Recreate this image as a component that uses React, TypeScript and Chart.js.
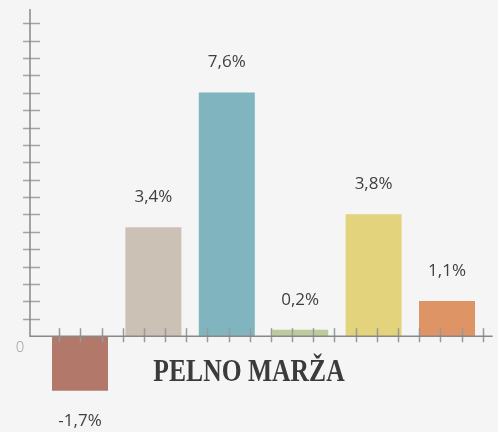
import React, { useEffect, useRef } from "react";
import { Chart, registerables } from "chart.js";

Chart.register(...registerables);

const categories = ["1", "2", "3", "4", "5", "6"];
const values = [-1.7, 3.4, 7.6, 0.2, 3.8, 1.1];
const colors = ["#b2786a", "#cbc1b5", "#80b5bf", "#bdcb9c", "#e3d37c", "#de9465"];
const title = "PELNO MARŽA";
const zeroLabel = "0";
const yTickStep = 0.542;
const yTickCount = 18;
const xTickStart = -0.282;
const xTickStep = 0.2884;
const xTickCount = 21;

const decor = {
  id: "decor",
  afterDatasetsDraw(chart: any) {
    const ctx = chart.ctx;
    const y = chart.scales.y;
    const x = chart.scales.x;
    const ca = chart.chartArea;
    const zeroY = y.getPixelForValue(0);
    const axisX = ca.left - 13.3;
    const axisRight = x.getPixelForValue(xTickStart + (xTickCount - 1) * xTickStep) + 10;
    ctx.save();
    // y tick marks
    ctx.strokeStyle = "#a3a3a3";
    ctx.lineWidth = 1.5;
    for (let k = 1; k <= yTickCount; k++) {
      const py = Math.round(y.getPixelForValue(k * yTickStep)) + 0.5;
      ctx.beginPath();
      ctx.moveTo(axisX - 7, py);
      ctx.lineTo(axisX + 10, py);
      ctx.stroke();
    }
    // x tick marks
    ctx.strokeStyle = "#999";
    for (let k = 0; k < xTickCount; k++) {
      const px = Math.round(x.getPixelForValue(xTickStart + k * xTickStep)) + 0.5;
      ctx.beginPath();
      ctx.moveTo(px, zeroY - 8);
      ctx.lineTo(px, zeroY + 6);
      ctx.stroke();
    }
    // axis lines
    ctx.strokeStyle = "#888";
    ctx.lineWidth = 1.5;
    ctx.beginPath();
    ctx.moveTo(axisX, ca.top);
    ctx.lineTo(axisX, zeroY);
    ctx.lineTo(axisRight, zeroY);
    ctx.stroke();
    // zero label
    ctx.fillStyle = "#9a9a9a";
    ctx.font = "300 15px 'Open Sans'";
    ctx.textAlign = "center";
    ctx.textBaseline = "middle";
    ctx.fillText(zeroLabel, axisX - 10, zeroY + 12);
    // value labels
    const meta = chart.getDatasetMeta(0);
    ctx.fillStyle = "#3f3f3f";
    ctx.font = "17px 'Open Sans'";
    meta.data.forEach((el: any, i: number) => {
      const v = values[i];
      const txt = v.toFixed(1).replace(".", ",") + "%";
      const ly = v >= 0 ? el.y - 30 : el.y + 30;
      ctx.fillText(txt, el.x, ly);
    });
    // title
    ctx.fillStyle = "#3b3b3b";
    ctx.font = "bold 32px 'Liberation Serif'";
    ctx.textBaseline = "alphabetic";
    ctx.translate(249, zeroY + 45);
    ctx.scale(0.8, 1);
    ctx.fillText(title, 0, 0);
    ctx.restore();
  },
};

export default function App() {
  const ref = useRef<HTMLCanvasElement>(null);
  useEffect(() => {
    document.body.style.margin = "0";
    document.body.style.background = "#f5f5f5";
    const chart = new Chart(ref.current as HTMLCanvasElement, {
      type: "bar",
      data: {
        labels: categories,
        datasets: [
          {
            data: values,
            backgroundColor: colors,
            borderWidth: 0,
            categoryPercentage: 1,
            barPercentage: 0.763,
          },
        ],
      },
      options: {
        responsive: false,
        animation: false,
        layout: { padding: { left: 43.3, right: 14.3, top: 9, bottom: 15.6 } },
        plugins: { legend: { display: false }, tooltip: { enabled: false } },
        scales: {
          x: { display: false },
          y: { display: false, min: -2.5, max: 10.2 },
        },
      },
      plugins: [decor],
    } as any);
    return () => chart.destroy();
  }, []);
  return (
    <div style={{ width: 498, height: 432, background: "#f5f5f5" }}>
      <canvas ref={ref} width={498} height={432} style={{ display: "block" }} />
    </div>
  );
}
